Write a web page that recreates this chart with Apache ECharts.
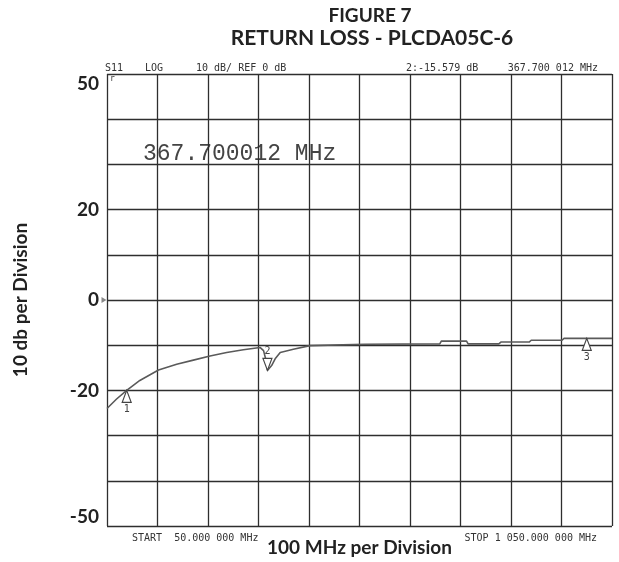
<!DOCTYPE html>
<html>
<head>
<meta charset="utf-8">
<title>Return Loss</title>
<script src="https://cdn.jsdelivr.net/npm/echarts@6/dist/echarts.min.js"></script>
<style type="text/css">
    html, body { margin: 0; padding: 0; background: #fff; }
    #chart { width: 619px; height: 562px; }
</style>
</head>
<body>
<div id="chart"></div>
<script>
    // trace (MHz / dB)
    var freqMHz = [50, 53, 69, 89, 115, 152, 188, 221, 254, 287, 320, 353, 360, 365, 367.7, 376, 383, 393, 419, 452,
                   560, 709, 712, 762, 765, 826, 830, 886, 890, 951, 955, 1050];
    var lossDb  = [-24.0, -23.8, -21.9, -20.0, -17.8, -15.5, -14.2, -13.3, -12.4, -11.6, -11.0, -10.5, -11.2, -13.4, -15.6, -14.5, -13.0, -11.6, -10.9, -10.1,
                   -9.8, -9.7, -9.1, -9.1, -9.7, -9.7, -9.3, -9.3, -8.9, -8.9, -8.5, -8.5];
    // markers 1..3
    var markerNames = ['1', '2', '3'];
    var markerFreq  = [89, 367.7, 1000];
    var markerDb    = [-20.0, -15.579, -8.5];
    // y labels that are printed
    var yTickLabels = [50, 20, 0, -20, -50];

    var traceData = freqMHz.map(function (f, i) { return [f, lossDb[i]]; });

    var markPts = markerNames.map(function (n, i) {
        var down = (n === '2');
        return {
            name: n,
            coord: [markerFreq[i], markerDb[i]],
            symbol: 'triangle',
            symbolSize: [9, 12],
            symbolRotate: down ? 180 : 0,
            symbolOffset: [0, down ? -6 : 6],
            itemStyle: { color: '#fff', borderColor: '#444', borderWidth: 1.2 },
            label: {
                show: true,
                formatter: n,
                position: down ? 'top' : 'bottom',
                distance: 1,
                color: '#444',
                fontSize: 10,
                fontFamily: 'DejaVu Sans Mono'
            }
        };
    });
    // reference pointer at 0 dB on the left edge
    markPts.push({
        coord: [50, 0],
        symbol: 'triangle',
        symbolSize: [6, 5],
        symbolRotate: -90,
        symbolOffset: [-3, 0],
        itemStyle: { color: '#888' },
        label: { show: false }
    });

    var monoTxt = { fontFamily: 'DejaVu Sans Mono', fontSize: 10, fill: '#333', textVerticalAlign: 'middle' };
    function hdr(x, y, s, align) {
        return {
            type: 'text', x: x, y: y,
            style: Object.assign({}, monoTxt, { text: s, textAlign: align || 'left' })
        };
    }

    var myChart = echarts.init(document.getElementById('chart'));
    var option = {
        animation: false,
        title: [{
            text: 'FIGURE 7',
            left: 365, top: 1, textAlign: 'center',
            textStyle: { fontFamily: 'Lato', fontWeight: 'bold', fontSize: 19, color: '#222' }
        }, {
            text: 'RETURN LOSS - PLCDA05C-6',
            left: 367, top: 23, textAlign: 'center',
            textStyle: { fontFamily: 'Lato', fontWeight: 'bold', fontSize: 21, color: '#222' }
        }],
        grid: { left: 107, right: 7, top: 74, bottom: 32, containLabel: false },
        xAxis: {
            type: 'value',
            min: 50, max: 1050, interval: 100,
            name: '100 MHz per Division',
            nameLocation: 'middle',
            nameGap: 12,
            nameTextStyle: { fontFamily: 'Lato', fontWeight: 'bold', fontSize: 19, color: '#222' },
            axisLine: { show: false },
            axisTick: { show: false },
            axisLabel: { show: false },
            splitLine: { show: true, lineStyle: { color: '#2e2e2e', width: 1.3 } }
        },
        yAxis: {
            type: 'value',
            min: -50, max: 50, interval: 10,
            name: '10 db per Division',
            nameLocation: 'middle',
            nameGap: 77,
            nameTextStyle: { fontFamily: 'Lato', fontWeight: 'bold', fontSize: 19, color: '#222' },
            axisLine: { show: false },
            axisTick: { show: false },
            axisLabel: {
                margin: 8,
                fontFamily: 'Lato', fontWeight: 'bold', fontSize: 19, color: '#222',
                verticalAlignMaxLabel: 'top',
                verticalAlignMinLabel: 'bottom',
                formatter: function (v) { return yTickLabels.indexOf(v) >= 0 ? String(v) : ''; }
            },
            splitLine: { show: true, lineStyle: { color: '#2e2e2e', width: 1.3 } }
        },
        graphic: [
            hdr(105, 68, 'S11'),
            hdr(145, 68, 'LOG'),
            hdr(196, 68, '10 dB/ REF 0 dB'),
            hdr(406, 68, '2:-15.579 dB'),
            hdr(598, 68, '367.700 012 MHz', 'right'),
            hdr(132, 538, 'START  50.000 000 MHz'),
            hdr(597, 538, 'STOP 1 050.000 000 MHz', 'right'),
            {
                type: 'text', x: 143, y: 154,
                style: { text: '367.700012 MHz', fontFamily: 'Liberation Mono', fontSize: 23, fill: '#444', textVerticalAlign: 'middle' }
            },
            {
                type: 'text', x: 110, y: 79,
                style: { text: 'r', fontFamily: 'DejaVu Sans Mono', fontSize: 8, fill: '#333', textVerticalAlign: 'middle' }
            }
        ],
        series: [{
            type: 'line',
            data: traceData,
            showSymbol: false,
            smooth: false,
            lineStyle: { color: '#5a5a5a', width: 1.6 },
            markPoint: { data: markPts }
        }]
    };
    myChart.setOption(option);
</script>
</body>
</html>
